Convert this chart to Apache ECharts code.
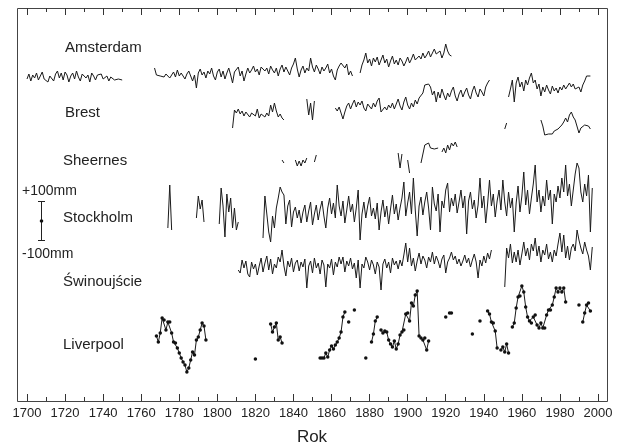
<!DOCTYPE html>
<html><head><meta charset="utf-8">
<script src="https://cdn.jsdelivr.net/npm/echarts@6/dist/echarts.min.js"></script>
<style>html,body{margin:0;padding:0;background:#fff}#c{width:618px;height:445px}</style>
</head><body><div id="c"></div>
<script>
// Sea-level anomalies (mm), yearly values; each array starts at the year in its name
const amsterdam_1700 = [-10,15,-20,10,-5,20,-15,5,25,-10, 0,-25,5,10,-20,15,30,-5,20,-15, 25,10,-25,5,20,-10,30,0,-20,15, 25,-5,10,-25,20,5,-15,10,0,15, -10,-5,5,-20,0,10,-15,-5,-10,0, -15];
const amsterdam_1767 = [45,10,20,5,10,0,15,5,-5,10, 25,0,35,5,20,10,-10,15,30,5, -20,10,-55,20,40,10,25,-5,30,15, 45,5,-15,25,40,0,30,-10,20,45, 10,-30,25,15,50,5,30,-20,15,45, 20,35,55,25,40,10,50,60,30,45, 15,55,35,20,45,5,40,60,25,50, 30,10,45,65,95,40,0,35,55,20, 45,30,95,50,25,60,40,15,50,30, 45,65,20,40,5,-15,35,55,70,75, 45,65,10,30,5];
const amsterdam_1875 = [20,60,85,120,70,90,55,95,75,100, 60,85,110,70,90,50,80,105,65,85, 60,95,80,55,75,100,70,90,115,85, 75,105,90,120,95,110,130,100,120,140, 115,105,130,95,120,165,130,110,105];

const brest_1808 = [-65,25,10,30,5,20,-5,15,25,-10, 10,20,-5,30,-15,5,15,-10,10,-5, 50,15,60,20,-10,5,-15,-25];
const brest_1847 = [80,0,60,-25,70];
const brest_1862 = [35,20,40,10,-20,15,45,60,30,55, 75,40,65,50,70,35,20,55,45,30, 60,40,70,85,15,5,40,25,50,35, 60,30,55,80,45,25,65,90,50,30, 60,40,75,55,85,85,110,150,140,155, 140,100,120,65,115,85,130,100,75,110, 90,120,140,95,70,105,125,90,115,135, 100,80,120,145,110,90,130,115,95,140, 160,175];
const brest_1953 = [90,130,175,65,160,190,140,165,120,175, 150,185,210,160,175,130,155,95,140,115, 150,125,105,145,120,135,110,140,125,150, 130,145,160,140,155,130,120,140,115,150, 170,195,190,195];

const sheerness_1834 = [0,-15];
const sheerness_1841 = [0,-30,-5,-30,0,-15,10];
const sheerness_1851 = [-10,25];
const sheerness_1895 = [35,-40,30];
const sheerness_1900 = [0,-65];
const sheerness_1907 = [-15,30,75,65,85,60,70,55,45,60];
const sheerness_1918 = [40,60,35,75,50,85,70,90,65];
const sheerness_1951 = [155,185];
const sheerness_1970 = [200,170,125,115,130,135,130,145,140,155, 165,175,190,210,190,225,240,215,200,190, 135,160,160,175,165,170,155];

const stockholm_1774 = [-40,175,-50];
const stockholm_1789 = [10,120,55,100,-10];
const stockholm_1801 = [-20,160,70,-85,130,40,110,-40,60,-50,-10];
const stockholm_1824 = [-90,120,115,-60,-110,20,-40,60,110,165, 140,125,-20,70,100,-35,40,65,10,50, -15,40,75,-10,45,90,-25,30,75,0, 55,95,20,-40,60,110,30,85,10,175, 70,20,95,-15,50,120,40,80,-10,60, 150,-100,30,90,10,70,115,20,60,5, 85,-50,40,100,15,70,-20,55,125,30, 80,0,60,110,190,20,85,140,30,210, 50,-80,70,115,25,90,140,60,-50,165, 80,45,130,-60,95,60,150,185,40,110, 70,130,35,90,150,60,120,-70,95,140, 55,100,10,75,210,60,120,-15,80,200, 70,130,15,95,150,50,200,90,20,140, 60,110,-60,85,170,40,120,240,75,150, 30,110,180,275,90,150,40,120,70,200, 100,150,-20,130,90,170,110,210,140,275, 120,180,70,150,230,285,260,140,90,180, 120,225,-60,160];

const swinoujscie_1811 = [0,-15,50,10,45,-20,-35,40,5,30, -25,20,60,-10,35,70,0,55,-20,30, 10,65,40,100,20,-30,45,15,60,-10, 35,50,-5,40,15,55,-90,20,45,-15, 60,10,35,-20,50,25,-85,30,10,55, -25,40,15,65,30,65,-10,45,20,60, 5,35,-40,50,-90,30,10,65,40,0, 50,25,-20,40,15,-100,30,55,10,40, -15,60,25,45,5,50,20,75,135,40, 110,20,60,-5,45,85,30,70,50,10, 65,40,90,30,70,45,10,55,75,-15, 40,60,90,50,70,30,55,20,45,75, 35,60,15,50,80,40,-40,50,20,70, 35,85,55,100];
const swinoujscie_1951 = [-85,110,60,130,35,90,40,100,25,80, 140,70,110,50,130,95,160,70,120,40, 100,75,130,55,90,40,100,70,130,185, 90,175,60,120,50,110,130,95,200,150, 110,80,140,100,70,0,115];

const liverpool_1768 = [20,-10,35,110,100,50,90,90,35,-10,-15,-40,-65,-90,-110,-125,-160,-140,-100,-60,-75,0,15,50,85,70,0];
const liverpool_1820 = [-95];
const liverpool_1828 = [80,40,65,85,0,15,-15];
const liverpool_1854 = [-90,-90,-90,-65,-85,-50,-30,-45,-25,-10,10,40,115,140];
const liverpool_1869 = [90];
const liverpool_1872 = [150];
const liverpool_1878 = [-90];
const liverpool_1881 = [-10,30,95,115];
const liverpool_1886 = [50,35,45,40,0,-20,-35,-5,-45,-20,25,40,50,130,135,95,185,170,225,245,20,10,0,10,-50,-5];
const liverpool_1920 = [115];
const liverpool_1922 = [135,135];
const liverpool_1934 = [30];
const liverpool_1938 = [95];
const liverpool_1942 = [145,130,90,85,45,-40];
const liverpool_1949 = [-50,-35,-60,-20,-65];
const liverpool_1955 = [65,85,160,215,220,270,240,165,115,95,85,115,125,75,60,85,60,60,125,150,150,175,215,260,240,260,240,260,190];
const liverpool_1990 = [175];
const liverpool_1992 = [90,135,175,185,145];

const stations = [
  {name:'Amsterdam', segs:[[1700,amsterdam_1700],[1767,amsterdam_1767],[1875,amsterdam_1875]]},
  {name:'Brest', segs:[[1808,brest_1808],[1847,brest_1847],[1862,brest_1862],[1953,brest_1953]]},
  {name:'Sheernes', segs:[[1834,sheerness_1834],[1841,sheerness_1841],[1851,sheerness_1851],[1895,sheerness_1895],[1900,sheerness_1900],[1907,sheerness_1907],[1918,sheerness_1918],[1951,sheerness_1951],[1970,sheerness_1970]]},
  {name:'Stockholm', segs:[[1774,stockholm_1774],[1789,stockholm_1789],[1801,stockholm_1801],[1824,stockholm_1824]]},
  {name:'Świnoujście', segs:[[1811,swinoujscie_1811],[1951,swinoujscie_1951]]},
  {name:'Liverpool', dots:true, segs:[[1768,liverpool_1768],[1820,liverpool_1820],[1828,liverpool_1828],[1854,liverpool_1854],[1869,liverpool_1869],[1872,liverpool_1872],[1878,liverpool_1878],[1881,liverpool_1881],[1886,liverpool_1886],[1920,liverpool_1920],[1922,liverpool_1922],[1934,liverpool_1934],[1938,liverpool_1938],[1942,liverpool_1942],[1949,liverpool_1949],[1955,liverpool_1955],[1990,liverpool_1990],[1992,liverpool_1992]]}
];

// layout (pixels)
const baselines = [77, 115, 160, 220, 270, 340];
const labelY = [48, 113, 161, 218, 282, 345];
const PX_PER_MM = 0.2;
const YR = 150;
const FONT = '"Liberation Sans", Arial, sans-serif';
const plotLeft = 27, plotWidth = 571;

const grid = [{left: plotLeft, top: 8, width: plotWidth, height: 393}];
const xAxis = [
  {gridIndex:0, type:'value', min:1700, max:2000, interval:20, position:'bottom',
   axisLine:{show:false}, splitLine:{show:false},
   axisTick:{show:true, inside:true, length:7, lineStyle:{color:'#333'}},
   minorTick:{show:true, splitNumber:2, length:4, lineStyle:{color:'#333'}},
   axisLabel:{color:'#222', fontSize:13, fontFamily:FONT, margin:6, formatter: v => String(v)}},
  {gridIndex:0, type:'value', min:1700, max:2000, interval:20, position:'top',
   axisLine:{show:false}, splitLine:{show:false},
   axisTick:{show:true, inside:true, length:7, lineStyle:{color:'#333'}},
   minorTick:{show:true, splitNumber:2, length:4, lineStyle:{color:'#333'}},
   axisLabel:{show:false}}
];
const yAxis = [{gridIndex:0, type:'value', show:false, min:0, max:1}];
const series = [];
stations.forEach((st, k) => {
  const g = k + 1;
  grid.push({left: plotLeft, width: plotWidth, top: baselines[k] - YR*PX_PER_MM, height: 2*YR*PX_PER_MM});
  xAxis.push({gridIndex:g, type:'value', min:1700, max:2000, show:false});
  yAxis.push({gridIndex:g, type:'value', min:-YR, max:YR, show:false});
  st.segs.forEach(([start, vals]) => {
    series.push({
      type:'line', xAxisIndex:k+2, yAxisIndex:g, clip:false, silent:true,
      data: vals.map((v,i)=>[start+i, v]),
      symbol: st.dots ? 'circle' : 'none', symbolSize: 3.5, showSymbol: !!st.dots, showAllSymbol: true,
      itemStyle:{color:'#111'}, lineStyle:{color:'#1a1a1a', width:1}
    });
  });
});

const graphic = [
  {type:'rect', shape:{x:17.5, y:8.5, width:590, height:393}, style:{fill:'none', stroke:'#444', lineWidth:1}, silent:true},
  {type:'line', shape:{x1:41.5, y1:201, x2:41.5, y2:241}, style:{stroke:'#222', lineWidth:1}},
  {type:'line', shape:{x1:38, y1:201.5, x2:45, y2:201.5}, style:{stroke:'#222', lineWidth:1}},
  {type:'line', shape:{x1:38, y1:240.5, x2:45, y2:240.5}, style:{stroke:'#222', lineWidth:1}},
  {type:'circle', shape:{cx:41.5, cy:221, r:1.8}, style:{fill:'#111'}},
  {type:'text', x:22, y:191, style:{text:'+100mm', font:'14px '+FONT, fill:'#222', verticalAlign:'middle'}},
  {type:'text', x:22, y:254, style:{text:'-100mm', font:'14px '+FONT, fill:'#222', verticalAlign:'middle'}},
  {type:'text', x:312, y:437, style:{text:'Rok', font:'17px '+FONT, fill:'#222', align:'center', verticalAlign:'middle'}}
];
stations.forEach((st,k)=>{
  graphic.push({type:'text', x: k===0||k===1 ? 65 : 63, y: labelY[k], style:{text: st.name, font:'15px '+FONT, fill:'#222', verticalAlign:'middle'}});
});

const chart = echarts.init(document.getElementById('c'), null, {renderer:'canvas'});
chart.setOption({animation:false, backgroundColor:'#fff', grid, xAxis, yAxis, series, graphic});
</script></body></html>
